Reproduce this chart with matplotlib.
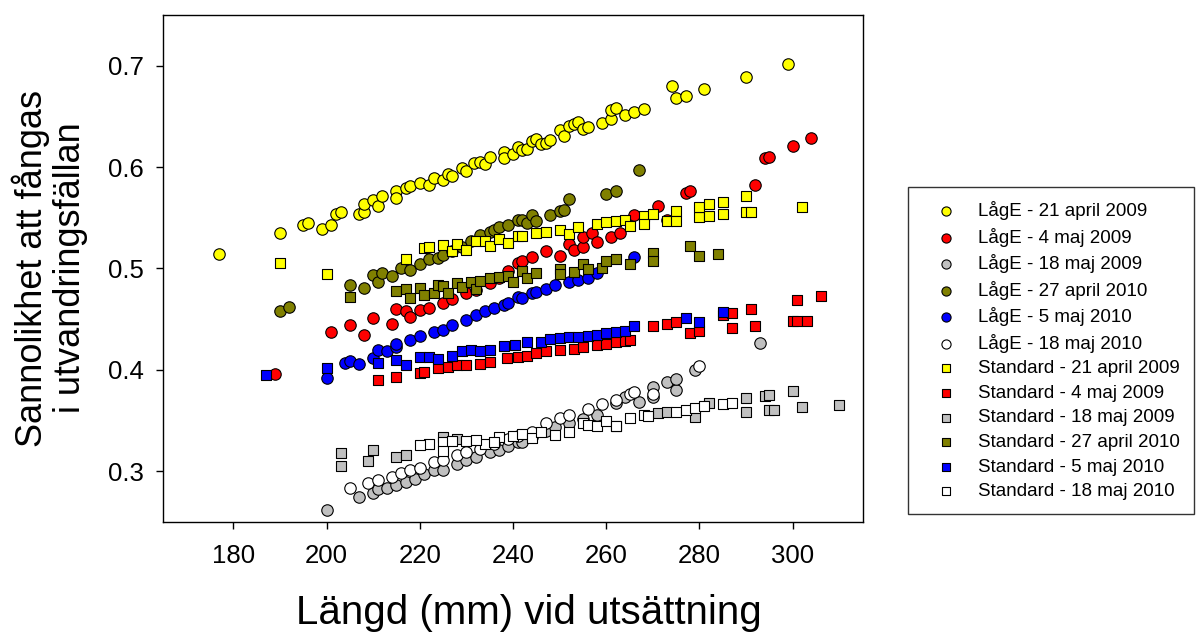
import matplotlib
matplotlib.use("Agg")
import matplotlib.pyplot as plt
from matplotlib.ticker import FormatStrFormatter

plt.rcParams['font.family'] = ['Liberation Sans', 'DejaVu Sans']

# ---------------- data ----------------
x_lage_21apr09 = [177, 190, 195, 196, 199, 201, 202, 203, 207, 208, 208, 210, 211, 212, 215, 215, 217, 218, 220, 222, 223,
                  225, 226, 227, 229, 230, 231.6, 233, 234, 235, 238, 238, 240, 241, 242, 243, 244, 245, 246, 247, 248,
                  250, 251, 252, 253, 254, 255, 256, 259, 261, 261, 262, 264, 266, 268, 274, 275, 277, 281, 290, 299]
y_lage_21apr09 = [0.514, 0.535, 0.543, 0.545, 0.539, 0.543, 0.554, 0.556, 0.554, 0.556, 0.564, 0.567, 0.562, 0.571,
                  0.576, 0.569, 0.579, 0.581, 0.584, 0.582, 0.589, 0.587, 0.593, 0.591, 0.599, 0.596, 0.604, 0.605,
                  0.603, 0.610, 0.615, 0.609, 0.613, 0.620, 0.617, 0.618, 0.626, 0.628, 0.623, 0.624, 0.627, 0.637,
                  0.631, 0.640, 0.642, 0.644, 0.638, 0.639, 0.643, 0.647, 0.656, 0.658, 0.651, 0.654, 0.657, 0.680,
                  0.668, 0.670, 0.677, 0.689, 0.702]

x_lage_4maj09 = [189, 201, 205, 208, 210, 214, 215, 217, 218, 220, 222, 225, 227, 230, 232, 235, 237, 239, 241, 242,
                 244, 247, 250, 252, 253, 255, 255, 257, 258, 261, 263, 266, 271, 273, 277, 278, 292, 294, 295, 300, 304]
y_lage_4maj09 = [0.396, 0.437, 0.444, 0.434, 0.451, 0.445, 0.460, 0.458, 0.452, 0.459, 0.461, 0.466, 0.470, 0.476,
                 0.479, 0.486, 0.490, 0.497, 0.505, 0.507, 0.511, 0.517, 0.512, 0.524, 0.518, 0.521, 0.531, 0.535,
                 0.526, 0.531, 0.535, 0.553, 0.562, 0.548, 0.574, 0.576, 0.582, 0.609, 0.610, 0.621, 0.629]

x_lage_18maj09 = [200, 207, 210, 211, 213, 215, 217, 219, 221, 223, 225, 228, 230, 232, 235, 237, 239, 241, 242, 244,
                  247, 249, 252, 255, 258, 262, 264, 267, 270, 270, 273, 275, 275, 279, 293]
y_lage_18maj09 = [0.262, 0.274, 0.278, 0.282, 0.283, 0.286, 0.289, 0.292, 0.297, 0.301, 0.301, 0.307, 0.311, 0.314,
                  0.319, 0.321, 0.325, 0.329, 0.329, 0.334, 0.340, 0.343, 0.347, 0.351, 0.355, 0.367, 0.373, 0.368,
                  0.383, 0.373, 0.388, 0.380, 0.391, 0.400, 0.426]

x_lage_27apr10 = [190, 192, 205, 208, 210, 211, 212, 214, 216, 218, 220, 222, 224, 225, 227, 229, 231, 233, 235, 236,
                  237, 239, 241, 242, 243, 244, 245, 248, 250, 251, 252, 260, 262, 267]
y_lage_27apr10 = [0.458, 0.462, 0.484, 0.481, 0.493, 0.487, 0.495, 0.492, 0.500, 0.498, 0.504, 0.509, 0.510, 0.513,
                  0.517, 0.521, 0.527, 0.533, 0.536, 0.538, 0.541, 0.543, 0.548, 0.548, 0.545, 0.553, 0.547, 0.553,
                  0.557, 0.558, 0.568, 0.573, 0.576, 0.597]

x_lage_5maj10 = [200, 204, 205, 207, 210, 211, 213, 215, 215, 218, 220, 223, 225, 227, 230, 232, 234, 236, 238, 239,
                 241, 242, 244, 245, 247, 249, 252, 254, 256, 258, 266]
y_lage_5maj10 = [0.392, 0.407, 0.409, 0.406, 0.412, 0.419, 0.418, 0.422, 0.425, 0.429, 0.433, 0.437, 0.439, 0.444,
                 0.449, 0.454, 0.458, 0.461, 0.464, 0.466, 0.472, 0.471, 0.476, 0.477, 0.480, 0.484, 0.487, 0.489,
                 0.490, 0.495, 0.511]

x_lage_18maj10 = [205, 209, 211, 214, 216, 218, 220, 223, 225, 228, 230, 233, 236, 239, 241, 244, 247, 250, 252, 256,
                  259, 262, 265, 266, 270, 280]
y_lage_18maj10 = [0.283, 0.288, 0.291, 0.294, 0.298, 0.301, 0.303, 0.309, 0.311, 0.316, 0.319, 0.322, 0.327, 0.332,
                  0.335, 0.339, 0.347, 0.352, 0.355, 0.361, 0.366, 0.370, 0.376, 0.378, 0.376, 0.404]

x_std_21apr09 = [190, 200, 217, 221, 222, 225, 227, 228, 230, 232, 234, 235, 237, 239, 241, 242, 245, 247, 250, 252,
                 254, 258, 260, 262, 264, 265, 268, 268, 270, 273, 275, 275, 280, 280, 282, 282, 285, 285, 290, 290,
                 291, 302]
y_std_21apr09 = [0.505, 0.494, 0.509, 0.520, 0.521, 0.523, 0.517, 0.524, 0.518, 0.527, 0.527, 0.522, 0.529, 0.525,
                 0.532, 0.532, 0.535, 0.536, 0.538, 0.534, 0.541, 0.544, 0.546, 0.547, 0.548, 0.542, 0.552, 0.544,
                 0.554, 0.547, 0.557, 0.547, 0.551, 0.561, 0.564, 0.552, 0.565, 0.554, 0.571, 0.556, 0.556, 0.561]

x_std_4maj09 = [211, 215, 220, 221, 224, 226, 228, 230, 233, 235, 238.7, 241, 243, 245, 247, 250, 253, 255, 258, 260,
                262, 264, 265, 270, 273, 275, 278, 280, 285, 287, 287, 291, 292, 300, 301, 303, 301, 306]
y_std_4maj09 = [0.390, 0.393, 0.397, 0.398, 0.402, 0.403, 0.405, 0.405, 0.406, 0.408, 0.412, 0.413, 0.414, 0.416,
                0.418, 0.419, 0.420, 0.422, 0.424, 0.425, 0.427, 0.428, 0.429, 0.443, 0.445, 0.447, 0.436, 0.438,
                0.454, 0.456, 0.441, 0.460, 0.443, 0.448, 0.448, 0.448, 0.469, 0.473]

x_std_18maj09 = [203, 203, 209, 210, 215, 217, 225, 228, 262, 271, 273, 279, 282, 290, 290, 294, 295, 295, 296, 300,
                 302, 310]
y_std_18maj09 = [0.318, 0.305, 0.310, 0.321, 0.314, 0.316, 0.334, 0.332, 0.344, 0.357, 0.358, 0.353, 0.367, 0.372,
                 0.358, 0.374, 0.375, 0.360, 0.360, 0.379, 0.363, 0.365]

x_std_27apr10 = [205, 215, 217, 218, 220, 221, 223, 224, 225, 226, 228, 229, 231, 232, 233, 235, 237, 239, 240, 242,
                 243, 245, 250, 250, 253, 255, 256, 259, 260, 262, 265, 270, 270, 278, 280, 284]
y_std_27apr10 = [0.472, 0.478, 0.480, 0.471, 0.481, 0.474, 0.476, 0.484, 0.483, 0.476, 0.486, 0.482, 0.487, 0.480,
                 0.488, 0.490, 0.491, 0.492, 0.487, 0.497, 0.490, 0.495, 0.499, 0.494, 0.496, 0.504, 0.499, 0.500,
                 0.507, 0.509, 0.504, 0.515, 0.507, 0.522, 0.512, 0.514]

x_std_5maj10 = [187, 200, 211, 215, 217, 220, 222, 224, 227, 229, 231, 233, 235, 238, 240.5, 243, 246, 248, 250, 252,
                254, 256, 258, 260, 262, 264, 266, 277, 280, 285]
y_std_5maj10 = [0.395, 0.402, 0.407, 0.410, 0.405, 0.413, 0.413, 0.411, 0.414, 0.418, 0.419, 0.418, 0.419, 0.423,
                0.424, 0.427, 0.427, 0.430, 0.431, 0.432, 0.432, 0.433, 0.434, 0.436, 0.437, 0.438, 0.443, 0.451,
                0.447, 0.457]

x_std_18maj10 = [222, 225, 225, 227, 230, 234, 237, 240, 242, 244, 246, 249, 252, 255, 256, 258, 260, 262, 265, 268,
                 269, 275, 277, 279, 281, 285, 287, 220, 232, 236]
y_std_18maj10 = [0.327, 0.329, 0.320, 0.330, 0.330, 0.327, 0.334, 0.335, 0.337, 0.333, 0.339, 0.336, 0.339, 0.347,
                 0.345, 0.344, 0.349, 0.344, 0.352, 0.355, 0.354, 0.358, 0.360, 0.362, 0.364, 0.366, 0.367, 0.326,
                 0.331, 0.329]

labels = ["LågE - 21 april 2009", "LågE - 4 maj 2009", "LågE - 18 maj 2009",
          "LågE - 27 april 2010", "LågE - 5 maj 2010", "LågE - 18 maj 2010",
          "Standard - 21 april 2009", "Standard - 4 maj 2009", "Standard - 18 maj 2009",
          "Standard - 27 april 2010", "Standard - 5 maj 2010", "Standard - 18 maj 2010"]
colors = ["#FFFF00", "#FF0000", "#C0C0C0", "#808000", "#0000FF", "#FFFFFF"]

xticks = [180, 200, 220, 240, 260, 280, 300]
yticks = [0.3, 0.4, 0.5, 0.6, 0.7]

# ---------------- figure ----------------
fig = plt.figure(figsize=(12.01, 6.33), dpi=100)
ax = fig.add_axes([0.136, 0.1758, 0.5823, 0.8005])

circle_series = [(x_lage_21apr09, y_lage_21apr09), (x_lage_4maj09, y_lage_4maj09),
                 (x_lage_18maj09, y_lage_18maj09), (x_lage_27apr10, y_lage_27apr10),
                 (x_lage_5maj10, y_lage_5maj10), (x_lage_18maj10, y_lage_18maj10)]
square_series = [(x_std_21apr09, y_std_21apr09), (x_std_4maj09, y_std_4maj09),
                 (x_std_18maj09, y_std_18maj09), (x_std_27apr10, y_std_27apr10),
                 (x_std_5maj10, y_std_5maj10), (x_std_18maj10, y_std_18maj10)]

handles = []
for i, (xs, ys) in enumerate(circle_series):
    h = ax.scatter(xs, ys, s=68, marker='o', facecolor=colors[i], edgecolor='black',
                   linewidth=0.8, label=labels[i], zorder=2 + i * 0.01)
    handles.append(h)
for i, (xs, ys) in enumerate(square_series):
    h = ax.scatter(xs, ys, s=58, marker='s', facecolor=colors[i], edgecolor='black',
                   linewidth=0.8, label=labels[6 + i], zorder=3 + i * 0.01)
    handles.append(h)

ax.set_xlim(165, 315)
ax.set_ylim(0.25, 0.75)
ax.set_xticks(xticks)
ax.set_yticks(yticks)
ax.yaxis.set_major_formatter(FormatStrFormatter('%.1f'))
ax.tick_params(axis='both', direction='out', length=5, width=1.0, labelsize=18.5, colors='black')
ax.tick_params(axis='x', pad=11)
ax.tick_params(axis='y', pad=9)
for sp in ax.spines.values():
    sp.set_linewidth(1.0)
    sp.set_color('black')

fig.text(529 / 1201, 0.014, "Längd (mm) vid utsättning", fontsize=29, ha='center', va='baseline')
fig.text(50 / 1201, 1 - 268 / 633, "Sannolikhet att fångas\ni utvandringsfällan", fontsize=26,
         rotation=90, ha='center', va='center', multialignment='center', linespacing=1.1)

leg = fig.legend(handles=handles, labels=labels, loc='upper left',
                 bbox_to_anchor=(908 / 1201, 1 - 187 / 633), bbox_transform=fig.transFigure,
                 fontsize=13.5, frameon=True, fancybox=False, shadow=False, markerscale=0.8,
                 labelspacing=0.40, borderpad=0.75, handlelength=2.5, handletextpad=0.5,
                 borderaxespad=0.0, scatterpoints=1)
leg.get_frame().set_edgecolor('black')
leg.get_frame().set_linewidth(1.0)

fig.savefig("out.png", dpi=100)
